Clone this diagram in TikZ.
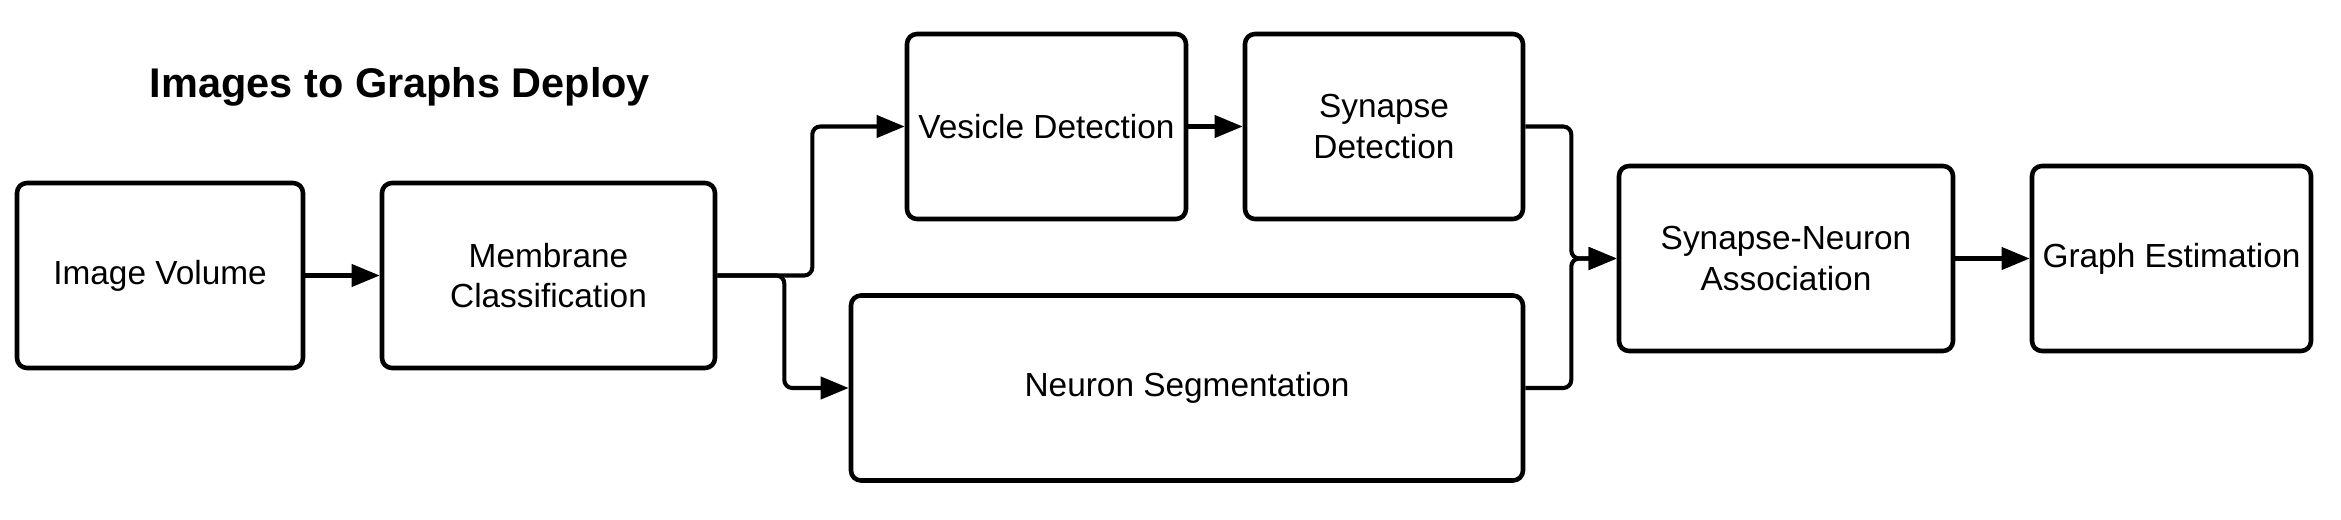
\documentclass[tikz,border=0pt]{standalone}
\usepackage{fontspec}
\setmainfont{Liberation Sans}
\usepackage{tikz}
\usetikzlibrary{arrows.meta}
\usetikzlibrary{positioning}

\tikzset{
	stage/.style={draw, line width=1.3pt, rounded corners=0.1cm, align=center, inner sep=1pt,
		minimum height=1.85cm, font=\fontsize{9.5}{11.6}\selectfont},
	flow/.style={line width=1.15pt, rounded corners=0.08cm, -{Triangle[length=0.28cm, width=0.22cm]}}
}

\begin{document}
\begin{tikzpicture}
			\useasboundingbox (0,0) rectangle (23.41,-5.20);
			\node[anchor=base, font=\fontsize{11.8}{14}\selectfont\bfseries] (title) at (4.00,-0.98) {Images to Graphs Deploy};
			
			\node[stage, minimum width=2.86cm] (IV) at (1.60,-2.755) {Image Volume};
			\node[stage, minimum width=3.33cm] (MC) at (5.485,-2.755) {Membrane\\Classification};
			\node[stage, minimum width=2.79cm] (VD) at (10.465,-1.265) {Vesicle Detection};
			\node[stage, minimum width=2.78cm] (SD) at (13.84,-1.265) {Synapse\\Detection};
			\node[stage, minimum width=6.72cm] (NS) at (11.87,-3.88) {Neuron Segmentation};
			\node[stage, minimum width=3.34cm] (SN) at (17.86,-2.585) {Synapse-Neuron\\Association};
			\node[stage, minimum width=2.79cm] (GE) at (21.715,-2.585) {Graph Estimation};
			
			\draw[flow] (IV) -- (MC);
			\draw[flow] (MC.east) -- ++(0.95,0) |- (VD.west);
			\draw[flow] (MC.east) -- ++(0.67,0) |- (NS.west);
			\draw[flow] (VD) -- (SD);
			\draw[flow] (SD.east) -- ++(0.46,0) |- (SN.west);
			\draw[flow] (NS.east) -- ++(0.46,0) |- (SN.west);
			\draw[flow] (SN) -- (GE);
			\end{tikzpicture}
\end{document}
